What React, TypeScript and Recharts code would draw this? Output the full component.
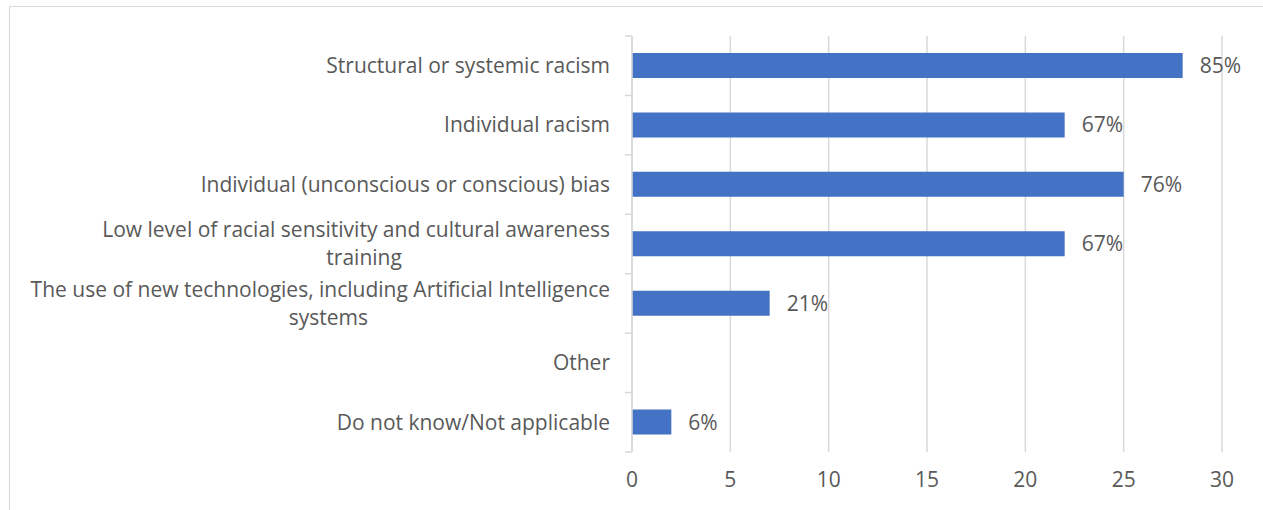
import React from 'react'
import {
  BarChart,
  Bar,
  XAxis,
  YAxis,
  CartesianGrid,
  LabelList,
} from 'recharts'

const categories = [
  'Structural or systemic racism',
  'Individual racism',
  'Individual (unconscious or conscious) bias',
  'Low level of racial sensitivity and cultural awareness\ntraining',
  'The use of new technologies, including Artificial Intelligence\nsystems',
  'Other',
  'Do not know/Not applicable',
]
const counts = [28, 22, 25, 22, 7, 0, 2]
const percentLabels = ['85%', '67%', '76%', '67%', '21%', '', '6%']
const xTicks = [0, 5, 10, 15, 20, 25, 30]

const data = categories.map((name, i) => ({
  name,
  count: counts[i],
  pct: percentLabels[i],
}))

const FONT = '"Open Sans", sans-serif'
const FONT_SIZE = 21
const TEXT = '#595959'
const GRID = '#d9d9d9'
const BAR = '#4472C4'

const W = 1263
const H = 510
const MARGIN = { top: 36, right: 41, bottom: 0, left: 0 }
const XAXIS_H = 58
const YAXIS_W = 632
const BAND = (H - MARGIN.top - MARGIN.bottom - XAXIS_H) / categories.length

let ctx: CanvasRenderingContext2D | null = null
function measure(s: string) {
  if (!ctx) ctx = document.createElement('canvas').getContext('2d')
  if (!ctx) return s.length * FONT_SIZE * 0.5
  ctx.font = `${FONT_SIZE}px ${FONT}`
  return ctx.measureText(s).width
}

function CategoryTick(props: any) {
  const { x, y, payload, index, visibleTicksCount } = props
  // recharts hands us x = axis - tickSize - tickMargin
  const axisX = x + 8
  const lines: string[] = String(payload.value).split('\n')
  const right = axisX - 22
  const lineH = 28
  const top = y - ((lines.length - 1) * lineH) / 2
  const maxW = Math.max(...lines.map(measure))
  const multi = lines.length > 1
  const cx = right - maxW / 2 + 8
  return (
    <g>
      <line x1={axisX - 7} x2={axisX} y1={y - BAND / 2} y2={y - BAND / 2} stroke={GRID} strokeWidth={1.5} />
      {index === visibleTicksCount - 1 && (
        <line x1={axisX - 7} x2={axisX} y1={y + BAND / 2} y2={y + BAND / 2} stroke={GRID} strokeWidth={1.5} />
      )}
      <text fontFamily={FONT} fontSize={FONT_SIZE} fill={TEXT}>
        {lines.map((l, i) => (
          <tspan
            key={i}
            x={multi && i > 0 ? cx : right}
            y={top + i * lineH}
            dy="0.35em"
            textAnchor={multi && i > 0 ? 'middle' : 'end'}
          >
            {l}
          </tspan>
        ))}
      </text>
    </g>
  )
}

export default function App() {
  return (
    <div
      style={{
        position: 'absolute',
        left: 0,
        top: 0,
        width: W,
        height: H,
        overflow: 'hidden',
        background: '#fff',
      }}
    >
      <div
        style={{
          position: 'absolute',
          left: 9,
          top: 6,
          width: W + 20,
          height: H + 20,
          border: `1.5px solid ${GRID}`,
        }}
      />
      <div style={{ position: 'absolute', left: 0, top: 0 }}>
        <BarChart
          width={W}
          height={H}
          data={data}
          layout="vertical"
          margin={MARGIN}
          barSize={25}
        >
          <CartesianGrid horizontal={false} stroke={GRID} strokeWidth={1.5} />
          <XAxis
            type="number"
            domain={[0, 30]}
            ticks={xTicks}
            axisLine={false}
            tickLine={false}
            tickSize={0}
            tickMargin={20}
            height={XAXIS_H}
            tick={{ fill: TEXT, fontSize: FONT_SIZE, fontFamily: FONT }}
          />
          <YAxis
            type="category"
            dataKey="name"
            width={YAXIS_W}
            axisLine={{ stroke: GRID, strokeWidth: 1.5 }}
            tickLine={false}
            tick={<CategoryTick />}
            interval={0}
          />
          <Bar dataKey="count" fill={BAR} isAnimationActive={false}>
            <LabelList
              dataKey="pct"
              position="right"
              offset={17}
              fill={TEXT}
              fontSize={FONT_SIZE}
              fontFamily={FONT}
            />
          </Bar>
        </BarChart>
      </div>
    </div>
  )
}
